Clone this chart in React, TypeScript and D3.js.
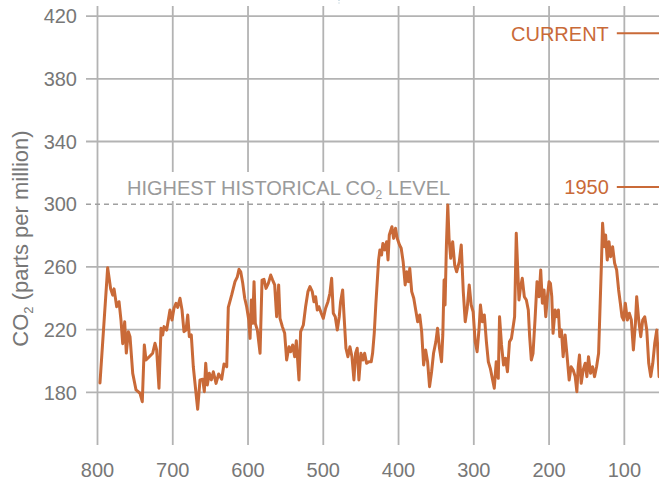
import React from "react";
import * as d3 from "d3";

// Age in thousands of years before present
const AGES = [
  796.7, 786.5, 782.5, 779.8, 778, 774.5, 771.4, 768.8, 766.5, 763.9, 761.7, 759, 756.8, 753.2, 748.8, 743.5, 740.5,
  737.8, 735.6, 731.2, 726.7, 723.6, 721.4, 718.3, 715.6, 713.4, 711.6, 708.1, 703.7, 701, 698.4, 695.7, 693.4, 690.4,
  687.7, 685.1, 682.4, 680.1, 678, 675.4, 672.7, 669.1, 666.9, 663.8, 660.2, 658.1, 656.2, 654.1, 651.4, 648.8, 646.1,
  642.5, 639, 635, 631.9, 628.3, 626.2, 621.7, 617.3, 614.2,
  612, 609.7, 607, 604.4, 601.8, 599, 597.3, 595.6, 593.8, 592, 590.3, 587.6, 584, 581.4, 578.8, 576.1, 573, 569.9,
  567.3, 564.6, 562, 559.3, 557.5, 554.4, 551.3, 548.7, 545.6, 543.4, 540.7, 538, 535.8, 532.3, 530.1, 526.5, 523.5,
  520.4, 517.7, 514.6, 512.4, 510.2, 508, 505.8, 502.7, 500, 496.9, 493.8, 491.2, 488.9, 486.7, 484.1, 481.4, 478.8,
  477, 474.3, 472.6, 469.9, 467.3, 464.6, 461.9, 459.3, 457.1, 454.9, 452.7, 450, 447.3, 445.1, 442.5, 439.4, 436.3,
  434.5, 432.3, 430.1, 428.3, 426.5, 424.8, 422.6, 420.8,
  418.4, 415.8, 414, 412.3, 408.8, 406.6, 404, 401.8, 398.7, 396.5, 393.9, 391.2, 389, 386.8, 385.1, 382.5, 379.8,
  376.8, 374.6, 371.9, 369.3, 366.7, 364, 361.4, 358.8, 356.1, 353.5, 350.4, 348.2, 345.6, 342.9, 341.2, 339.5, 338.2,
  336.4, 334.6, 332.9, 330.7, 328.1, 325.4, 322.8, 319.3, 316.7, 314, 311.4, 308.8, 306.1, 303.5, 300.9, 298.2, 295.6,
  293, 291.2, 288.6, 286, 283.3, 280.7, 278.1, 275.4, 272.8, 270.2, 267.5, 265.8, 263.2, 260.5, 257.9, 255.3, 252.6, 250,
  245.8, 243.6, 241.8, 240, 237.8, 235.6, 232.9, 230.2, 227.6, 225.8, 223.6, 221.3, 218.7, 216, 213.3, 211.1, 208.9,
  206.7, 204.4, 202.2, 200, 198.2, 196.4, 194.7, 192, 189.3, 187.6, 185.8, 183.6, 181.3, 178.7, 176, 173.3, 170.7, 168,
  165.3, 163.1, 161.3, 159.6, 157.3, 154.7, 152, 149.8, 147.6, 144.9, 142.2, 139.6, 136.9, 134.2, 132.4, 130.7, 128.9,
  126.7, 124.9, 122.7, 120.4, 118.2, 115.6, 112.9, 110.2, 107.6, 105.3, 103.1, 100.9, 98.7, 96, 93.3, 90.7, 88, 85.3,
  83.6, 80.9, 78.2, 75.6, 72.9, 70.2, 67.6, 64.9, 62.2, 59.6, 56.9, 55.1, 53.8, 52,
];

// CO2 concentration, parts per million
const CO2 = [
  186, 259.5, 246, 242, 246, 234.6, 237.8, 226, 211, 225, 205, 218.7, 215.5, 192.1, 181.5, 179.4, 174,
  210.2, 200.6, 202.7, 204.9, 211.3, 207, 182.6, 220.8, 216.6, 221.9, 219.7, 232.5, 226.1, 233.6, 236.8, 234.2, 240,
  232.5, 218.7, 219.7, 229.3, 215.5, 216.6, 196.3, 179.4, 169.2, 187.9, 188.3, 180.4, 198.5, 184.7, 192.1, 187.9, 193.1,
  185.7, 191.7, 188.3, 198, 196.3, 234.2, 242.1, 250.6, 253.7,
  258.5, 256.9, 249.5, 240, 234.6, 226.1, 214.4, 238.9, 224, 250.6, 224, 219.7, 204.9, 251.6, 252.1, 246.3, 249.5, 254.8,
  251.6, 248.5, 228.2, 248.5, 227.2, 221.9, 217.6, 200.6, 209.1, 205.9, 210.2, 202.7, 212.9, 187.9, 218.7, 222.9, 234.6,
  244.2, 247.4, 244.2, 237.8, 241, 232.5, 234.6, 230.4, 227.2, 233.6, 237.8, 243.2, 252.7, 230.4, 228.2, 219.7, 228.2,
  237.8, 245.3, 230.4, 208.1, 202.7, 209.1, 202.7, 187.9, 204.9, 208.1, 187.9, 204.9, 200.6, 204.9, 198.5, 199.5, 199.5,
  204.9, 217.6, 236.8, 250.6, 264.4, 270.8, 267.6, 275,
  270.8, 276.1, 264.4, 280.4, 285.6, 278.2, 284.6, 278.2, 274, 271.9, 263.3, 248.5, 256.9, 250.6, 259.1, 244.2, 240,
  231.4, 225, 229.3, 218.7, 197.4, 207, 199.5, 183.6, 193.1, 204.9, 212.3, 220.8, 208.1, 199.5, 216.6, 251.6, 235.7,
  274, 299.5, 278.2, 265.5, 276.1, 261.2, 256.9, 263.3, 274, 244.2, 225, 233.6, 248.5, 235.7, 231.4, 212.3, 205.9,
  220.8, 235.7, 225, 229.3, 212.3, 199.5, 195.3, 188.9, 182.6, 199.5, 188.9, 228.2, 210.2, 197.4, 201.7, 193.1, 212.3, 214.4,
  228.2, 281.4, 260.1, 238.9, 247.4, 252.7, 241, 238.9, 232.5, 215.5, 200.6, 204.9, 226.1, 250.6, 241, 258, 236.8,
  245.3, 228.2, 241, 250.6, 249.5, 241, 217.6, 232.5, 228.2, 232.5, 215.5, 219.7, 202.7, 216.6, 202.7, 187.8, 196.3, 194.2,
  190, 180.4, 196.3, 203.8, 185.7, 194.2, 198.5, 190, 202.7, 192.1, 196.3, 190, 196.3, 204.9, 232.5, 258, 287.8,
  272.9, 280.4, 264.4, 276.1, 266.5, 272.9, 262.3, 258, 245.3, 236.8, 228.2, 226.1, 236.8, 226.1, 230.4, 226.1, 207, 224,
  241, 226.1, 215.5, 226.1, 228.2, 219.7, 198.5, 190, 198.5, 211.3, 219.7, 202.7, 190, 212,
];

const X_TICKS = [800, 700, 600, 500, 400, 300, 200, 100];
const Y_TICKS = [180, 220, 260, 300, 340, 380, 420];
const HIGHEST_LEVEL = 300;
const MARKER_LABELS = ["CURRENT", "1950"];
const MARKER_VALUES = [409, 311];
const MARKER_START_AGE = 110;

const W = 659;
const H = 482;
const ORANGE = "#c96a38";
const GRID = "#b3b3b3";
const TEXT = "#777777";
const FONT = "'Liberation Sans', Arial, Helvetica, sans-serif";

export default function App() {
  const x = d3.scaleLinear().domain([800, 0]).range([97.5, 699.6]);
  const y = d3.scaleLinear().domain([180, 420]).range([392.3, 16.1]);
  const pts: [number, number][] = AGES.map((a, i) => [a, CO2[i]]);
  const path = d3
    .line<[number, number]>()
    .x((d) => x(d[0]))
    .y((d) => y(d[1]))(pts) as string;

  const gridTop = 6;
  const gridBottom = 445;
  const gridLeft = 86;

  return (
    <div style={{ position: "absolute", left: 0, top: 0 }}>
      <svg width={W} height={H} style={{ display: "block", fontFamily: FONT }}>
        <rect x={0} y={0} width={W} height={H} fill="#ffffff" />
        {/* vertical gridlines */}
        {X_TICKS.map((t) => (
          <line key={"v" + t} x1={x(t)} x2={x(t)} y1={gridTop} y2={gridBottom} stroke={GRID} strokeWidth={1.8} />
        ))}
        {/* horizontal gridlines */}
        {Y_TICKS.filter((v) => v !== HIGHEST_LEVEL).map((v) => (
          <line key={"h" + v} x1={gridLeft} x2={W} y1={y(v)} y2={y(v)} stroke={GRID} strokeWidth={1.8} />
        ))}
        {/* annotation background */}
        <rect x={120} y={172} width={338} height={29} fill="#ffffff" />
        <line
          x1={gridLeft}
          x2={W}
          y1={y(HIGHEST_LEVEL)}
          y2={y(HIGHEST_LEVEL)}
          stroke="#a0a0a0"
          strokeWidth={1.6}
          strokeDasharray="5 4"
        />
        <text x={127} y={195} fontSize={20} fill="#9a9a9a">
          HIGHEST HISTORICAL CO
          <tspan fontSize={12} dy={4}>2</tspan>
          <tspan dy={-4}> LEVEL</tspan>
        </text>
        {/* data line */}
        <path d={path} fill="none" stroke={ORANGE} strokeWidth={3} strokeLinejoin="round" strokeLinecap="round" />
        {/* markers */}
        {MARKER_VALUES.map((v, i) => (
          <g key={"m" + i}>
            <line x1={x(MARKER_START_AGE)} x2={x(0)} y1={y(v)} y2={y(v)} stroke={ORANGE} strokeWidth={2} />
            <text x={x(MARKER_START_AGE) - 8} y={y(v)} dy="0.36em" textAnchor="end" fontSize={20} fill={ORANGE}>
              {MARKER_LABELS[i]}
            </text>
          </g>
        ))}
        {/* y tick labels */}
        {Y_TICKS.map((v) => (
          <text key={"yl" + v} x={77} y={y(v)} dy="0.36em" textAnchor="end" fontSize={20} fill={TEXT}>
            {v}
          </text>
        ))}
        {/* x tick labels */}
        {X_TICKS.map((t) => (
          <text key={"xl" + t} x={x(t)} y={476.5} textAnchor="middle" fontSize={20} fill={TEXT}>
            {t}
          </text>
        ))}
        {/* y axis title */}
        <text transform="translate(28,238.5) rotate(-90)" textAnchor="middle" fontSize={22} fill={TEXT}>
          CO
          <tspan fontSize={13} dy={5}>2</tspan>
          <tspan dy={-5}>{"  (parts per million)"}</tspan>
        </text>
        <line x1={339} x2={339} y1={0} y2={5} stroke="#a9c3cf" strokeWidth={1} strokeDasharray="1 1.5" />
      </svg>
    </div>
  );
}
